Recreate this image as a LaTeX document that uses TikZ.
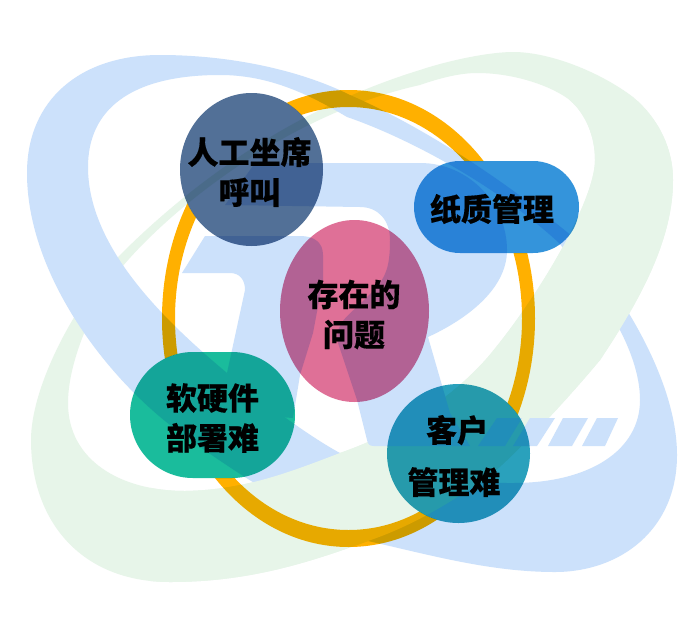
\documentclass[tikz,border=0pt]{standalone}
\usepackage{fontspec}
\usepackage{tikz}
\usetikzlibrary{shapes.geometric, shapes.misc}
\newfontfamily\cjk[BoldFeatures={FakeBold=0.35}]{Noto Sans CJK SC}

\definecolor{ringblue}{HTML}{CCE1FB}
\definecolor{ringgreen}{HTML}{E7F5E9}
\definecolor{ringorange}{HTML}{FFB000}
\definecolor{callcolor}{HTML}{527097}
\definecolor{papercolor}{HTML}{3494DB}
\definecolor{issuecolor}{HTML}{DF7097}
\definecolor{softcolor}{HTML}{1ABC9C}
\definecolor{clientcolor}{HTML}{2AA1BC}

\def\greenring{\fill[ringgreen, even odd rule]
  (31,440) .. controls (31,390) and (70,310) .. (120,255)
  .. controls (190,185) and (290,110) .. (420,70)
  .. controls (450,60) and (490,52) .. (513,52)
  .. controls (550,52) and (600,72) .. (633,97)
  .. controls (660,120) and (673,150) .. (673,180)
  .. controls (673,240) and (640,300) .. (600,360)
  .. controls (575,390) and (535,435) .. (493,473)
  .. controls (455,500) and (415,525) .. (368,541)
  .. controls (310,562) and (250,582) .. (170,582)
  .. controls (80,582) and (31,520) .. (31,440) -- cycle
  (68,403) .. controls (68,360) and (95,300) .. (122,267)
  .. controls (170,210) and (285,115) .. (420,85)
  .. controls (440,78) and (460,73) .. (477,73)
  .. controls (520,73) and (560,90) .. (573,103)
  .. controls (585,115) and (595,135) .. (595,160)
  .. controls (595,200) and (540,295) .. (488,357)
  .. controls (450,400) and (400,432) .. (340,453)
  .. controls (290,472) and (245,490) .. (185,491)
  .. controls (120,491) and (68,460) .. (68,403) -- cycle;}

\begin{document}
\begin{tikzpicture}[x=1pt, y=-1pt,
    shapebox/.style={draw=none, inner sep=0pt},
    word/.style={inner sep=0pt, align=center, text=black, font=\cjk\bfseries\fontsize{31}{40}\selectfont}]
  \useasboundingbox (0,0) rectangle (695,621);
  \fill[white] (0,0) rectangle (695,621);

  % rings of the logo
  \greenring
  \fill[ringblue, even odd rule]
    (27,173) .. controls (27,100) and (80,55) .. (160,55)
    .. controls (230,55) and (300,70) .. (350,95)
    .. controls (430,130) and (510,185) .. (573,237)
    .. controls (620,290) and (677,380) .. (677,455)
    .. controls (677,530) and (620,572) .. (555,572)
    .. controls (490,572) and (430,555) .. (368,541)
    .. controls (300,515) and (230,470) .. (170,425)
    .. controls (100,370) and (27,270) .. (27,173) -- cycle
    (88,167) .. controls (88,110) and (130,75) .. (220,75)
    .. controls (270,75) and (310,95) .. (347,117)
    .. controls (400,135) and (490,180) .. (558,242)
    .. controls (600,290) and (640,350) .. (640,400)
    .. controls (640,450) and (590,483) .. (513,483)
    .. controls (440,483) and (390,480) .. (340,453)
    .. controls (310,437) and (260,400) .. (227,373)
    .. controls (170,325) and (88,250) .. (88,167) -- cycle;
  \begin{scope}
    \clip (150,621) -- (150,420) -- (480,250) -- (560,100) -- (695,100) -- (695,621) -- cycle;
    \greenring
  \end{scope}

  % letters of the logo
  \fill[ringblue] (182,273) -- (205,236) -- (300,236) .. controls (315,236) and (323,243) .. (323,255)
    -- (323,280) -- (313,333) -- (300,375) -- (293,418) -- (250,415) -- (227,373) -- (245,290)
    .. controls (245,280) and (240,273) .. (230,273) -- cycle;
  \fill[ringblue] (255,163) -- (420,163) .. controls (470,163) and (507,205) .. (507,250)
    .. controls (507,290) and (465,320) .. (428,337) -- (450,413) -- (470,446) -- (374,446)
    .. controls (369,446) and (368,444) .. (367,440) -- (357,400) -- (337,340)
    .. controls (337,320) and (350,315) .. (367,297) .. controls (385,280) and (390,270) .. (390,240)
    .. controls (390,220) and (378,207) .. (360,207) -- (225,205) -- cycle;
  \fill[ringblue] (497,418) -- (522,418) -- (505,446) -- (478,446) -- cycle;
  \fill[ringblue] (530,418) -- (555,418) -- (537,446) -- (513,446) -- cycle;
  \fill[ringblue] (563,418) -- (588,418) -- (572,446) -- (548,446) -- cycle;
  \fill[ringblue] (597,418) -- (618,418) -- (605,446) -- (582,446) -- cycle;

  % orange ring, hidden behind the nodes
  \begin{scope}[blend mode=multiply, even odd rule]
    \clip (0,0) rectangle (695,621)
      (251.5,169.5) ellipse [x radius=71.5pt, y radius=76.5pt]
      (414,161) [rounded corners=46pt] rectangle (579,253) [sharp corners]
      (130,352) [rounded corners=63pt] rectangle (295,478) [sharp corners]
      (458.5,453.5) ellipse [x radius=71.5pt, y radius=69.5pt];
    \fill[ringorange] (348.5,318.5) ellipse [x radius=186.5pt, y radius=228.5pt]
      (348.5,318.5) ellipse [x radius=173.5pt, y radius=211.5pt];
  \end{scope}

  \begin{scope}[blend mode=multiply]
    \node[shapebox, ellipse, fill=callcolor, minimum width=143pt, minimum height=153pt] (call) at (251.5,169.5) {};
    \node[shapebox, rounded rectangle, fill=papercolor, minimum width=165pt, minimum height=92pt] (paper) at (496.5,207) {};
    \node[shapebox, ellipse, fill=issuecolor, minimum width=149pt, minimum height=182pt] (center) at (354.5,311) {};
    \node[shapebox, rounded rectangle, fill=softcolor, minimum width=165pt, minimum height=126pt] (soft) at (212.5,415) {};
    \node[shapebox, ellipse, fill=clientcolor, minimum width=143pt, minimum height=139pt] (client) at (458.5,453.5) {};
  \end{scope}

  \node[word] (calltext) at (249.5,172) {人工坐席\\呼叫};
  \node[word] (papertext) at (492,209) {纸质管理};
  \node[word] (centertext) at (354,314.5) {存在的\\问题};
  \node[word] (softtext) at (212.5,418) {软硬件\\部署难};
  \node[word] (clienttext) at (454,456) {\kern6pt 客户\\[12pt]管理难};
\end{tikzpicture}
\end{document}
